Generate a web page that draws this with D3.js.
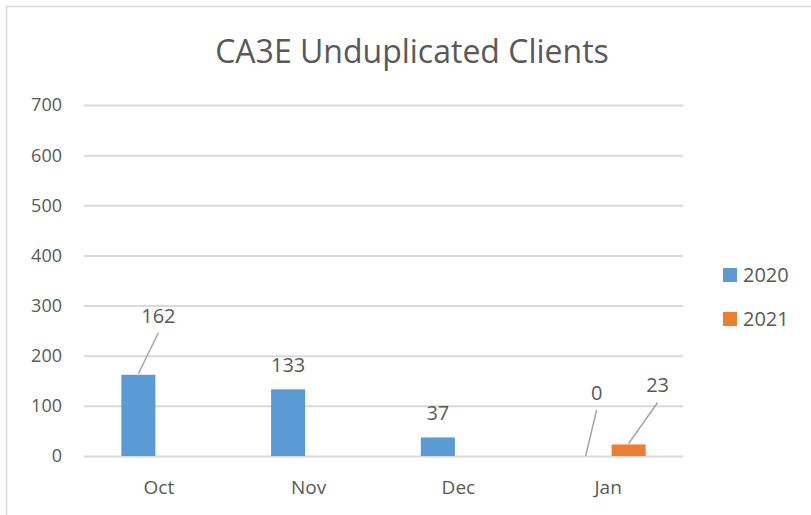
<!DOCTYPE html>
<html lang="en">
<head>
<meta charset="UTF-8"/>
<title>CA3E Unduplicated Clients</title>
<script src="https://d3js.org/d3.v7.min.js"></script>
<style>
  body { margin: 0; background: #fff; font-family: "Open Sans", sans-serif; }
  svg { display: block; }
  text { fill: #595959; }
  .grid line { stroke: #d9d9d9; stroke-width: 2; }
  .grid path { stroke-width: 0; }
  .leader { stroke: #a6a6a6; stroke-width: 1.5; }
</style>
</head>
<body>
<svg width="811" height="515"></svg>
<script>
const categories = ['Oct', 'Nov', 'Dec', 'Jan'];
const seriesNames = ['2020', '2021'];
const values2020 = [162, 133, 37, 0];
const values2021 = [null, null, null, 23];
const yTicks = [0, 100, 200, 300, 400, 500, 600, 700];
const colors = ['#5b9bd5', '#ed7d31'];

// label offsets (px) from bar top centre: [dx, dy, leader?]
const labelPos2020 = [[20, -52, true], [0, -17, false], [0, -17, false], [9, -56, true]];
const labelPos2021 = [null, null, null, [29, -52, true]];

const svg = d3.select('svg');

// outer chart frame (cut off on right and bottom)
svg.append('rect')
  .attr('x', 6.5).attr('y', 6.5)
  .attr('width', 900).attr('height', 600)
  .attr('fill', 'none').attr('stroke', '#d9d9d9').attr('stroke-width', 1.5);

const plotLeft = 84, plotRight = 683, plotTop = 105, plotBottom = 456;

const x = d3.scaleBand().domain(categories).range([plotLeft, plotRight]);
const x1 = d3.scaleBand().domain(seriesNames).range([0, x.bandwidth()]).paddingOuter(0.91).paddingInner(0.17);
const y = d3.scaleLinear().domain([0, 700]).range([plotBottom, plotTop]);

svg.append('g')
  .attr('class', 'grid')
  .attr('transform', `translate(${plotLeft},0)`)
  .call(d3.axisLeft(y).tickValues(yTicks).tickSize(-(plotRight - plotLeft)).tickFormat(''));

// y tick labels
svg.append('g').selectAll('text')
  .data(yTicks).enter().append('text')
  .attr('x', 62).attr('y', d => y(d))
  .attr('dy', '0.36em')
  .attr('text-anchor', 'end')
  .style('font-size', '18px')
  .text(d => d);

// category labels
svg.append('g').selectAll('text')
  .data(categories).enter().append('text')
  .attr('x', d => x(d) + x.bandwidth() / 2)
  .attr('y', 494)
  .attr('text-anchor', 'middle')
  .style('font-size', '19px')
  .text(d => d);

const series = [
  { name: '2020', values: values2020, pos: labelPos2020, color: colors[0] },
  { name: '2021', values: values2021, pos: labelPos2021, color: colors[1] }
];

series.forEach(s => {
  const rows = categories.map((c, i) => ({ cat: c, value: s.values[i], pos: s.pos[i] }))
    .filter(d => d.value !== null);
  const cx = d => x(d.cat) + x1(s.name) + x1.bandwidth() / 2;

  svg.append('g').selectAll('rect')
    .data(rows).enter().append('rect')
    .attr('x', d => x(d.cat) + x1(s.name))
    .attr('y', d => y(d.value))
    .attr('width', x1.bandwidth())
    .attr('height', d => y(0) - y(d.value))
    .attr('fill', s.color);

  const lab = svg.append('g').selectAll('g')
    .data(rows).enter().append('g');

  lab.filter(d => d.pos[2]).append('line')
    .attr('class', 'leader')
    .attr('x1', d => cx(d) + (d.value === 0 ? -2 : 0))
    .attr('y1', d => y(d.value) - (d.value > 0 ? 1 : 0))
    .attr('x2', d => cx(d) + d.pos[0])
    .attr('y2', d => y(d.value) + d.pos[1] + 10);

  lab.append('text')
    .attr('x', d => cx(d) + d.pos[0])
    .attr('y', d => y(d.value) + d.pos[1])
    .attr('text-anchor', 'middle')
    .style('font-size', '20px')
    .text(d => d.value);
});

// title
svg.append('text')
  .attr('x', 412).attr('y', 63)
  .attr('text-anchor', 'middle')
  .style('font-size', '32px')
  .text('CA3E Unduplicated Clients');

// legend
const legend = svg.append('g').selectAll('g')
  .data(series).enter().append('g')
  .attr('transform', (d, i) => `translate(723, ${268 + i * 44})`);

legend.append('rect')
  .attr('width', 14).attr('height', 14)
  .attr('fill', d => d.color);

legend.append('text')
  .attr('x', 20).attr('y', 14)
  .style('font-size', '20px')
  .text(d => d.name);
</script>
</body>
</html>
